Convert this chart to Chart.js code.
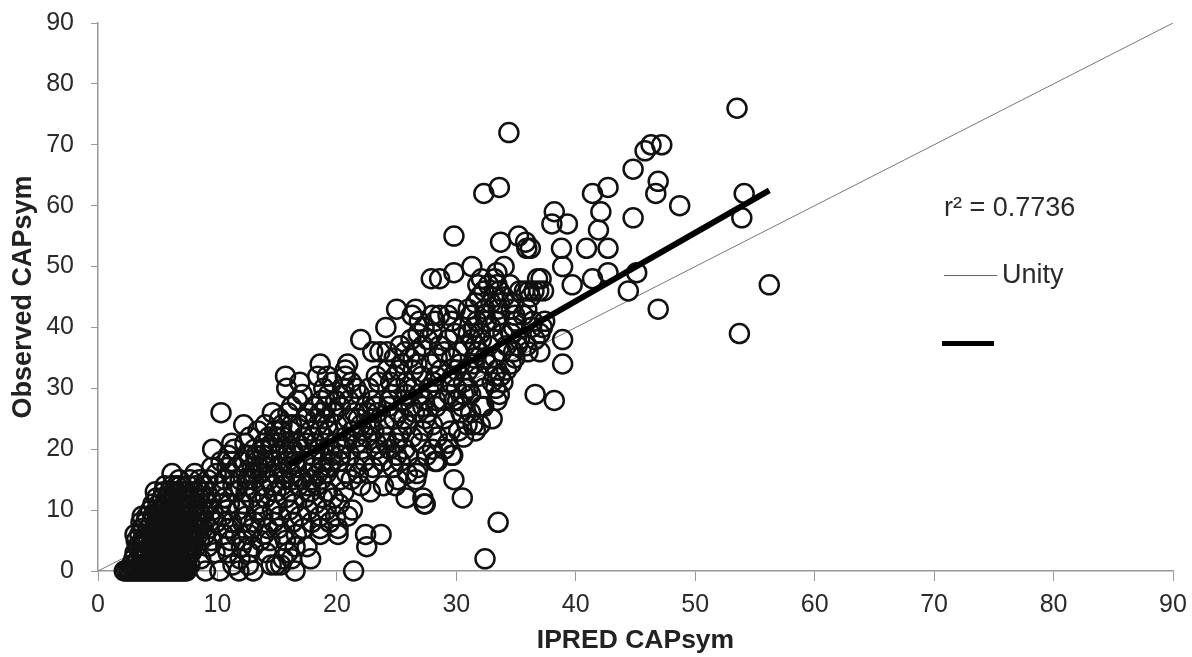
<!DOCTYPE html>
<html>
<head>
<meta charset="utf-8">
<script src="https://cdn.jsdelivr.net/npm/chart.js@4"></script>
<style>
    html, body { margin: 0; padding: 0; background: #fff; }
    #wrap { position: relative; width: 1192px; height: 657px; overflow: hidden; filter: blur(0.4px); }
    #scatter { display: block; }
    .note { position: absolute; font: 27px "Liberation Sans", Arial, sans-serif; color: #2a2a2a; white-space: nowrap; }
    .key { position: absolute; }
</style>
</head>
<body>
<div id="wrap">
    <canvas id="scatter" width="1192" height="657"></canvas>
    <div class="note" style="left:944px;top:192px;">r² = 0.7736</div>
    <div class="key" style="left:944px;top:275px;width:53px;height:1px;background:#666;"></div>
    <div class="note" style="left:1002px;top:259px;">Unity</div>
    <div class="key" style="left:942px;top:341px;width:52px;height:5px;background:#000;"></div>
</div>
<script>
var axisTicks = [0, 10, 20, 30, 40, 50, 60, 70, 80, 90];
var unityX = [0, 90];
var unityY = [0, 90];
var fitX = [16, 56.2];
var fitY = [17.4, 62.5];

// IPRED values, one row per observed score (row 0 = score 0, etc)
var ipredByObserved = [
    [2.2,2.4,2.6,2.8,3.0,3.2,3.4,3.6,3.8,4.0,4.2,4.4,4.6,4.8,5.0,5.2,5.4,5.6,5.8,6.0,6.2,6.4,6.6,6.8,7.0,7.2,7.4,9.0,10.2,11.8,13.0,16.5,21.4],
    [2.8,3.1,3.5,3.8,4.1,4.3,4.7,4.8,5.2,5.3,5.7,5.8,6.1,6.3,6.8,7.1,7.4,7.7,11.3,12.6,14.5,14.9,15.3],
    [3.0,3.4,3.7,3.9,4.4,4.6,4.9,5.4,5.6,5.9,6.4,6.7,6.9,7.3,7.5,8.6,11.9,15.5,16.2,17.8,32.4],
    [3.1,3.6,3.9,4.1,4.6,4.9,5.1,5.6,5.9,6.1,6.6,6.8,7.1,7.6,7.8,9.8,10.9,12.7,14.1,15.9],
    [3.3,3.6,3.8,4.3,4.5,4.8,5.3,5.5,5.8,6.3,6.5,6.8,7.3,7.6,7.9,8.2,9.2,10.7,12.0,13.0,16.5,17.5,22.5],
    [3.2,3.7,4.0,4.2,4.7,5.0,5.2,5.7,6.0,6.2,6.7,7.0,7.2,7.8,8.0,8.5,9.5,11.1,12.2,13.6,14.4,15.7],
    [3.1,3.5,4.0,4.5,4.8,5.0,5.5,5.8,6.0,6.5,6.8,7.0,7.5,7.7,8.1,8.4,9.0,10.5,11.5,12.6,13.9,15.5,16.6,18.6,20.1,22.4,23.7],
    [3.7,4.2,4.7,4.9,5.2,5.7,5.9,6.2,6.7,6.9,7.2,7.7,8.0,8.4,8.8,9.3,10.9,12.9,14.2,15.1,17.2,18.6,20.1],
    [3.6,4.0,4.5,4.9,5.1,5.4,5.9,6.1,6.3,6.8,7.0,7.3,7.9,8.3,8.9,9.9,11.2,12.1,13.1,14.7,16.3,17.9,19.4,33.5],
    [3.7,4.1,4.6,5.1,5.3,5.6,6.1,6.4,6.6,7.1,7.4,7.6,8.3,8.7,9.4,10.4,12.4,13.8,15.2,16.9,18.6,19.9,20.9],
    [4.4,4.9,5.2,5.4,5.9,6.2,6.4,6.9,7.2,7.4,8.0,8.4,8.8,9.6,10.8,11.7,13.4,14.6,16.0,17.6,19.1,21.3],
    [4.6,5.1,5.6,5.8,6.1,6.6,6.9,7.1,7.8,8.2,8.6,9.2,10.3,11.0,12.2,13.5,15.0,16.4,18.2,20.2,27.3,27.4],
    [4.9,5.4,5.9,6.2,6.5,7.1,7.4,7.7,8.1,8.5,9.0,9.4,10.6,12.8,14.0,15.7,17.3,18.8,19.7,25.8,27.2,30.5],
    [4.8,5.5,6.0,6.3,6.6,7.0,7.4,8.1,8.6,9.1,10.4,11.5,12.4,13.2,14.9,16.1,17.8,19.2,20.6,22.8],
    [5.6,6.2,6.6,6.9,7.6,8.2,8.8,10.0,11.3,12.5,13.7,14.6,15.4,16.8,17.5,18.3,22.0,23.9,24.9],
    [6.8,7.7,8.5,9.2,10.6,11.9,12.5,13.0,14.3,15.6,16.3,17.1,17.9,18.7,20.3,21.2,25.1,26.6,29.8],
    [6.2,8.1,9.9,11.1,12.4,13.0,13.6,14.8,15.5,16.2,17.7,18.4,19.1,20.8,21.8,22.7,25.9,26.7],
    [9.5,10.8,11.6,12.9,13.5,14.1,15.3,16.0,16.6,18.0,18.7,19.4,21.6,23.0,24.7,26.8],
    [10.3,11.2,12.1,13.3,14.0,14.6,15.9,16.5,17.3,18.8,19.5,20.2,22.3,23.8,25.3,28.2,28.4],
    [10.9,12.6,13.2,13.8,15.1,15.8,16.4,17.9,19.6,20.3,21.1,23.6,25.0,26.0,27.5,29.6,29.7],
    [9.6,11.4,13.1,13.7,14.4,15.7,16.3,17.0,18.5,19.4,20.4,22.1,23.3,24.4,25.7,28.0,29.0],
    [11.2,12.3,13.9,14.6,15.2,16.7,17.5,18.2,19.9,20.8,21.7,23.3,24.1,25.0,27.0,29.3],
    [12.7,14.3,14.9,15.5,17.2,18.0,18.9,20.7,21.6,22.5,24.1,25.2,26.3,28.4,30.6],
    [13.4,14.8,15.3,16.1,17.8,18.6,19.3,21.3,22.2,23.1,25.4,27.2,29.5,30.2,31.6],
    [12.2,14.0,15.4,16.2,16.8,18.4,19.2,20.0,22.0,22.8,24.0,25.9,28.0,30.9,31.4,32.0],
    [15.2,17.4,18.2,19.0,20.9,21.8,22.9,24.8,25.6,27.4,29.0,33.0],
    [10.3,14.6,15.9,17.6,18.6,19.7,21.5,22.6,23.4,25.2,26.5,27.6,30.4,31.2],
    [16.2,18.1,19.1,20.3,22.4,23.3,24.3,26.2,27.2,28.3,30.5,32.1,32.3],
    [16.7,18.7,19.9,21.0,23.0,24.4,25.6,27.3,28.3,28.9,29.8,30.1,33.4,38.2],
    [17.1,19.3,20.5,21.9,24.6,25.8,26.9,29.4,30.6,31.2,33.6,36.6],
    [15.8,18.9,20.6,21.6,22.7,25.1,26.4,27.7,30.0,31.0,32.3,33.3],
    [16.9,19.6,21.2,23.5,24.5,25.8,28.1,29.5,30.6,33.0,33.9],
    [15.7,18.4,19.2,20.7,23.3,24.9,27.1,28.3,29.7,31.9,33.2,33.7],
    [20.7,24.2,25.2,26.4,28.7,30.0,31.0,33.4,34.2],
    [18.6,20.9,25.5,26.7,27.9,30.3,31.5,32.6,34.6,38.9],
    [24.8,26.1,28.4,29.6,31.5,32.4,33.2,34.9],
    [23.0,23.6,24.2,25.7,26.6,29.0,30.2,31.8,33.8,34.8,36.0,37.0],
    [25.3,27.2,28.6,30.7,31.6,32.7,34.2,35.1,35.9],
    [22.0,26.2,27.6,29.3,31.3,32.1,33.1,35.3,36.6,38.9],
    [26.8,28.0,29.9,31.0,32.0,33.9,34.6,37.0,53.7],
    [24.1,27.3,30.5,31.5,32.9,34.8,36.3,37.2],
    [26.9,28.2,29.6,31.7,32.5,33.3,35.0,36.4,37.4],
    [26.3,28.0,28.6,29.3,31.2,32.4,33.6,34.9,35.6],
    [25.0,26.6,29.9,31.0,32.4,33.5,34.6,35.9,46.9],
    [31.6,32.9,33.6,34.8],
    [31.9,33.1,34.0,36.2],
    [32.3,33.6,35.3,35.7,36.1,36.5,36.9,37.3,44.4],
    [31.8,32.7,33.4,34.5,39.7,56.2],
    [27.9,28.6,32.1,33.2,36.8,37.1,41.4],
    [29.8,33.4,42.7,45.1],
    [31.3,34.0,38.9],
    [],
    [],
    [35.9,36.2,38.8,40.9,42.7],
    [33.7,35.8],
    [29.8,35.2],
    [41.9],
    [38.0,39.3],
    [44.8,53.9],
    [38.2,42.1],
    [48.7],
    [],
    [32.3,41.4,46.7,54.1],
    [33.6,42.7],
    [46.9],
    [],
    [44.8],
    [],
    [],
    [45.8],
    [46.3,47.2],
    [],
    [34.4],
    [],
    [],
    [],
    [53.5]
];

var ipred = [];
var observed = [];
ipredByObserved.forEach(function(row, score) {
    row.forEach(function(value) {
        ipred.push(value);
        observed.push(score);
    });
});

function toPoints(xs, ys) {
    return xs.map(function(x, i) {
        return { x: x, y: ys[i] };
    });
}

var fontFamily = '"Liberation Sans", Arial, sans-serif';

// keep the plot area where the layout padding puts it, labels may overhang
function dropLabelPadding(scale) {
    scale.paddingTop = 0;
    scale.paddingBottom = 0;
    scale.paddingLeft = 0;
    scale.paddingRight = 0;
}

function axisOptions(titleText, titlePadding, tickLength, tickPadding) {
    return {
        type: 'linear',
        min: 0,
        max: 90,
        afterBuildTicks: function(scale) {
            scale.ticks = axisTicks.map(function(v) { return { value: v }; });
        },
        grid: { display: true, drawOnChartArea: false, drawTicks: true, tickLength: tickLength, color: '#999' },
        border: { display: true, color: '#999', width: 1.5 },
        ticks: { color: '#2a2a2a', font: { family: fontFamily, size: 25 }, padding: tickPadding, maxRotation: 0, autoSkip: false },
        title: { display: true, text: titleText, color: '#222', font: { family: fontFamily, size: 26.5, weight: 'bold' }, padding: titlePadding }
    };
}

var xAxis = axisOptions('IPRED CAPsym', { top: 2, bottom: 0 }, 10, 9);
xAxis.afterFit = function(scale) { scale.height = 86; dropLabelPadding(scale); };
var yAxis = axisOptions('Observed CAPsym', { top: 7, bottom: 2 }, 7, 17);
yAxis.title.font = { family: fontFamily, size: 27, weight: 'bold' };
yAxis.afterFit = function(scale) { scale.width = 98; dropLabelPadding(scale); };

var myChart = new Chart(document.getElementById('scatter').getContext('2d'), {
    type: 'scatter',
    data: {
        datasets: [{
            label: 'Fit',
            data: toPoints(fitX, fitY),
            showLine: true,
            borderColor: '#000',
            borderWidth: 6,
            pointRadius: 0,
            order: 1
        }, {
            label: 'Unity',
            data: toPoints(unityX, unityY),
            showLine: true,
            borderColor: '#777',
            borderWidth: 1,
            pointRadius: 0,
            order: 3
        }, {
            label: 'Observations',
            data: toPoints(ipred, observed),
            showLine: false,
            pointStyle: 'circle',
            pointRadius: 9.5,
            pointBorderWidth: 2.5,
            pointBorderColor: '#111',
            pointBackgroundColor: 'rgba(0,0,0,0)',
            clip: false,
            order: 2
        }]
    },
    options: {
        responsive: false,
        animation: false,
        layout: { padding: { top: 23, right: 19, left: 0, bottom: 0 } },
        scales: { x: xAxis, y: yAxis },
        plugins: {
            legend: { display: false },
            tooltip: { enabled: false }
        }
    }
});
</script>
</body>
</html>
